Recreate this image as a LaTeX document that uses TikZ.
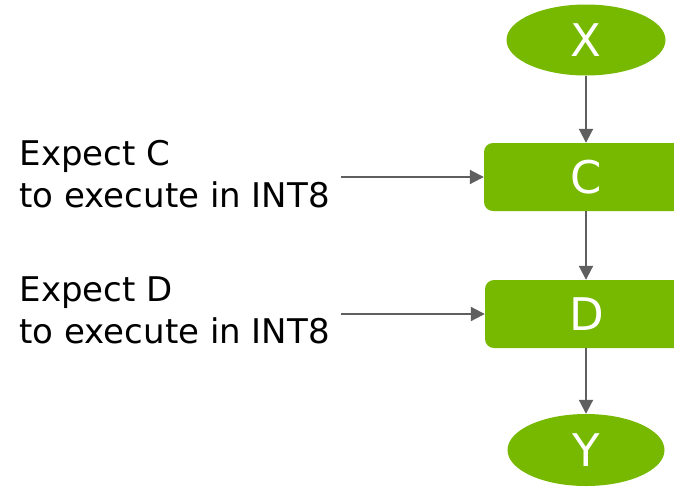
\documentclass[tikz,border=0pt]{standalone}
\usepackage{xcolor}
\usepackage{fontspec}
\setmainfont{DejaVu Sans}
\usepackage{tikz}
\usetikzlibrary{arrows.meta,shapes.geometric}
\definecolor{nvgreen}{RGB}{118,185,0}
\definecolor{flowgray}{RGB}{95,95,95}

\tikzset{
    tensor/.style={ellipse, fill=nvgreen, text=white, inner sep=0pt,
        font=\fontsize{45}{48}\selectfont},
    layer/.style={rectangle, rounded corners=9pt, fill=nvgreen, text=white,
        minimum width=204pt, minimum height=68pt, inner sep=0pt,
        font=\fontsize{45}{48}\selectfont},
    expect/.style={align=left, inner sep=11pt,
        font=\fontsize{34}{42}\selectfont},
    flow/.style={draw=flowgray, line width=2pt,
        -{Triangle[length=14pt,width=14pt]}}
}

\begin{document}
\begin{tikzpicture}[x=1pt,y=-1pt]
    % canvas of the reference
    \clip (0,0) rectangle (674,488);

    % tensors and layers
    \node[tensor, minimum width=159pt, minimum height=71pt] (X) at (586,40) {X};
    \node[layer] (C) at (586,177) {C};
    \node[layer] (D) at (587,314) {D};
    \node[tensor, minimum width=157pt, minimum height=72pt] (Y) at (586,450) {Y};

    % expectations
    \node[expect, anchor=east] (expC) at (341,174) {Expect C\\to execute in INT8};
    \node[expect, anchor=east] (expD) at (341,310) {Expect D\\to execute in INT8};

    % data flow
    \draw[flow] (X) -- (C);
    \draw[flow] (C) -- (D.north -| C.south);
    \draw[flow] (D.south -| C.south) -- (Y);
    \draw[flow] (expC.east |- C.west) -- (C.west);
    \draw[flow] (expD.east |- D.west) -- (D.west);
\end{tikzpicture}
\end{document}
